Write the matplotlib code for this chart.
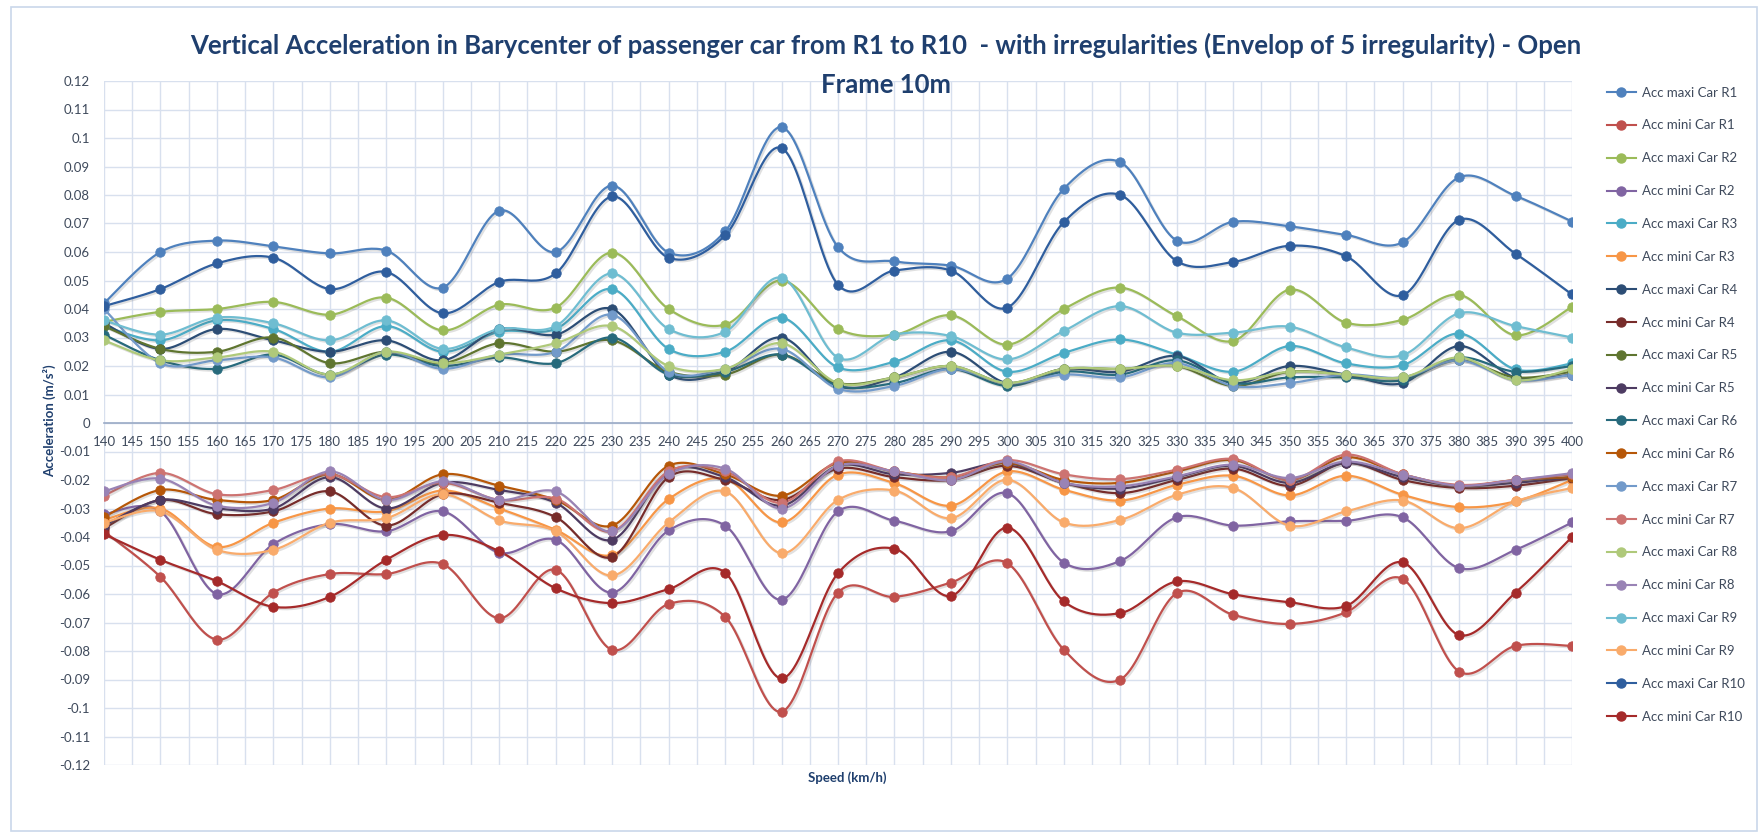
import numpy as np
import matplotlib
matplotlib.use("Agg")
import matplotlib.pyplot as plt
from matplotlib.lines import Line2D
from matplotlib.patches import Rectangle
import matplotlib.patheffects as pe

plt.rcParams['font.family'] = ['Lato', 'DejaVu Sans']

speed = list(range(140, 401, 10))

# maximum envelopes (m/s2)
maxi_r1 = [0.042, 0.060, 0.064, 0.062, 0.0595, 0.0605, 0.0475, 0.0745, 0.060, 0.0833, 0.0598, 0.0672, 0.1038, 0.0617,
           0.0567, 0.0552, 0.0507, 0.0822, 0.0915, 0.064, 0.0706, 0.069, 0.066, 0.0634, 0.0862, 0.0797, 0.0707]
maxi_r2 = [0.0355, 0.039, 0.040, 0.0425, 0.038, 0.044, 0.0325, 0.0415, 0.0405, 0.0598, 0.040, 0.0345, 0.050, 0.033,
           0.031, 0.0378, 0.0275, 0.040, 0.0475, 0.0375, 0.0288, 0.0468, 0.0352, 0.0362, 0.045, 0.0308, 0.0408]
maxi_r3 = [0.034, 0.029, 0.036, 0.033, 0.025, 0.034, 0.025, 0.032, 0.033, 0.047, 0.026, 0.025, 0.037, 0.0195,
           0.0215, 0.029, 0.018, 0.0246, 0.0293, 0.024, 0.018, 0.027, 0.0209, 0.0203, 0.0314, 0.0188, 0.0209]
maxi_r4 = [0.035, 0.026, 0.033, 0.029, 0.025, 0.029, 0.022, 0.033, 0.031, 0.040, 0.017, 0.018, 0.030, 0.013,
           0.016, 0.025, 0.014, 0.019, 0.018, 0.0235, 0.014, 0.020, 0.017, 0.014, 0.027, 0.016, 0.017]
maxi_r5 = [0.034, 0.026, 0.025, 0.030, 0.021, 0.025, 0.021, 0.028, 0.025, 0.029, 0.018, 0.017, 0.024, 0.014,
           0.016, 0.020, 0.014, 0.019, 0.019, 0.020, 0.013, 0.018, 0.017, 0.016, 0.022, 0.016, 0.018]
maxi_r6 = [0.031, 0.022, 0.019, 0.024, 0.017, 0.024, 0.020, 0.023, 0.021, 0.030, 0.017, 0.018, 0.024, 0.013,
           0.014, 0.019, 0.013, 0.018, 0.017, 0.022, 0.014, 0.016, 0.016, 0.015, 0.023, 0.018, 0.020]
maxi_r7 = [0.040, 0.021, 0.022, 0.023, 0.016, 0.025, 0.019, 0.024, 0.025, 0.038, 0.018, 0.019, 0.026, 0.012,
           0.013, 0.019, 0.014, 0.017, 0.016, 0.021, 0.013, 0.014, 0.017, 0.016, 0.022, 0.015, 0.017]
maxi_r8 = [0.029, 0.022, 0.023, 0.025, 0.017, 0.025, 0.021, 0.024, 0.028, 0.034, 0.020, 0.019, 0.028, 0.014,
           0.016, 0.020, 0.014, 0.019, 0.019, 0.020, 0.015, 0.018, 0.017, 0.016, 0.023, 0.015, 0.019]
maxi_r9 = [0.036, 0.031, 0.037, 0.035, 0.029, 0.036, 0.026, 0.033, 0.034, 0.0525, 0.033, 0.032, 0.051, 0.0229,
           0.031, 0.0305, 0.0223, 0.0323, 0.041, 0.0317, 0.0317, 0.0338, 0.0265, 0.0238, 0.0385, 0.034, 0.030]
maxi_r10 = [0.041, 0.047, 0.056, 0.058, 0.047, 0.053, 0.0385, 0.0495, 0.0525, 0.0795, 0.058, 0.0658, 0.0965, 0.0485,
            0.0535, 0.0535, 0.0405, 0.0705, 0.080, 0.0568, 0.0565, 0.0622, 0.0585, 0.0448, 0.0713, 0.0594, 0.0451]

# minimum envelopes (m/s2)
mini_r1 = [-0.038, -0.054, -0.076, -0.0595, -0.053, -0.053, -0.0495, -0.0685, -0.0515, -0.0796, -0.0635, -0.068,
           -0.1013, -0.0595, -0.061, -0.056, -0.0492, -0.0796, -0.090, -0.0597, -0.0673, -0.0705, -0.0664, -0.0547,
           -0.0872, -0.0782, -0.0782]
mini_r2 = [-0.032, -0.031, -0.060, -0.0425, -0.0355, -0.038, -0.031, -0.0455, -0.041, -0.0595, -0.0377, -0.036,
           -0.062, -0.031, -0.0343, -0.038, -0.0246, -0.049, -0.0484, -0.0331, -0.036, -0.0345, -0.0343, -0.0331,
           -0.0509, -0.0445, -0.0349]
mini_r3 = [-0.034, -0.030, -0.0435, -0.035, -0.030, -0.031, -0.0237, -0.030, -0.0375, -0.0463, -0.0267, -0.0196,
           -0.0349, -0.0181, -0.0211, -0.029, -0.017, -0.0234, -0.0272, -0.0217, -0.0185, -0.0254, -0.0185, -0.0252,
           -0.0295, -0.0275, -0.020]
mini_r4 = [-0.037, -0.027, -0.032, -0.031, -0.024, -0.036, -0.025, -0.028, -0.033, -0.047, -0.019, -0.020, -0.027,
           -0.016, -0.019, -0.020, -0.015, -0.021, -0.0246, -0.020, -0.016, -0.022, -0.014, -0.020, -0.0228, -0.022,
           -0.0193]
mini_r5 = [-0.036, -0.027, -0.030, -0.030, -0.019, -0.030, -0.021, -0.0235, -0.028, -0.041, -0.017, -0.019, -0.029,
           -0.015, -0.018, -0.0175, -0.014, -0.021, -0.023, -0.019, -0.015, -0.021, -0.014, -0.019, -0.022, -0.021,
           -0.019]
mini_r6 = [-0.033, -0.0235, -0.027, -0.027, -0.018, -0.027, -0.018, -0.022, -0.027, -0.036, -0.015, -0.018, -0.0255,
           -0.014, -0.017, -0.019, -0.014, -0.020, -0.021, -0.017, -0.013, -0.020, -0.012, -0.018, -0.022, -0.020,
           -0.019]
mini_r7 = [-0.0255, -0.0175, -0.025, -0.0235, -0.018, -0.026, -0.021, -0.027, -0.0265, -0.038, -0.017, -0.017,
           -0.028, -0.0135, -0.017, -0.019, -0.013, -0.018, -0.0197, -0.0164, -0.0126, -0.020, -0.0111, -0.018,
           -0.0217, -0.020, -0.018]
mini_r8 = [-0.024, -0.0195, -0.029, -0.028, -0.017, -0.027, -0.0205, -0.027, -0.024, -0.038, -0.018, -0.016, -0.030,
           -0.015, -0.017, -0.020, -0.0135, -0.021, -0.0222, -0.0187, -0.0146, -0.0193, -0.0135, -0.0181, -0.022,
           -0.020, -0.0176]
mini_r9 = [-0.035, -0.031, -0.0445, -0.0445, -0.035, -0.0334, -0.025, -0.0342, -0.038, -0.0535, -0.0349, -0.024,
           -0.0457, -0.027, -0.0237, -0.0334, -0.0199, -0.0349, -0.034, -0.0252, -0.0228, -0.036, -0.031, -0.0272,
           -0.0369, -0.0275, -0.0228]
mini_r10 = [-0.039, -0.048, -0.0555, -0.0645, -0.061, -0.048, -0.0393, -0.045, -0.058, -0.0632, -0.0583, -0.0525,
            -0.0896, -0.0527, -0.0441, -0.0607, -0.0367, -0.0626, -0.0667, -0.0556, -0.0601, -0.0629, -0.0642,
            -0.0489, -0.0744, -0.0595, -0.040]

series = [
    ("Acc maxi Car R1", maxi_r1, '#4F81BD'),
    ("Acc mini Car R1", mini_r1, '#C0504D'),
    ("Acc maxi Car R2", maxi_r2, '#9BBB59'),
    ("Acc mini Car R2", mini_r2, '#8064A2'),
    ("Acc maxi Car R3", maxi_r3, '#4BACC6'),
    ("Acc mini Car R3", mini_r3, '#F79646'),
    ("Acc maxi Car R4", maxi_r4, '#2C4D75'),
    ("Acc mini Car R4", mini_r4, '#772C2A'),
    ("Acc maxi Car R5", maxi_r5, '#5F7530'),
    ("Acc mini Car R5", mini_r5, '#4D3B62'),
    ("Acc maxi Car R6", maxi_r6, '#276A7C'),
    ("Acc mini Car R6", mini_r6, '#B65708'),
    ("Acc maxi Car R7", maxi_r7, '#729ACA'),
    ("Acc mini Car R7", mini_r7, '#CD7371'),
    ("Acc maxi Car R8", maxi_r8, '#AFC97A'),
    ("Acc mini Car R8", mini_r8, '#9983B5'),
    ("Acc maxi Car R9", maxi_r9, '#6FBDD1'),
    ("Acc mini Car R9", mini_r9, '#F9AB6B'),
    ("Acc maxi Car R10", maxi_r10, '#2F5E9E'),
    ("Acc mini Car R10", mini_r10, '#A52A2A'),
]


def smooth_curve(x, y, n=24):
    # cubic bezier through the points, same idea as a spreadsheet "smoothed line"
    pts = np.column_stack([x, y]).astype(float)
    t = np.linspace(0, 1, n)[:, None]
    out = []
    for i in range(len(pts) - 1):
        p0 = pts[i - 1] if i > 0 else pts[i]
        p1 = pts[i]
        p2 = pts[i + 1]
        p3 = pts[i + 2] if i + 2 < len(pts) else pts[i + 1]
        c1 = p1 + (p2 - p0) / 6.0
        c2 = p2 - (p3 - p1) / 6.0
        seg = (1 - t) ** 3 * p1 + 3 * (1 - t) ** 2 * t * c1 + 3 * (1 - t) * t ** 2 * c2 + t ** 3 * p2
        out.append(seg if i == 0 else seg[1:])
    out = np.vstack(out)
    return out[:, 0], out[:, 1]


fig = plt.figure(figsize=(17.59, 8.32), dpi=100)
W, H = 1759, 832
ax = fig.add_axes([104 / W, 1 - 765 / H, (1572 - 104) / W, (765 - 81) / H])

grid_col = '#D8E0EE'
text_col = '#3F4A5C'
title_col = '#1F3F6E'

shadow = [pe.SimpleLineShadow(offset=(1.2, -1.2), alpha=0.18, shadow_color='#555555'), pe.Normal()]
for name, vals, col in series:
    sx, sy = smooth_curve(speed, vals)
    ax.plot(sx, sy, color=col, lw=1.6, zorder=3, path_effects=shadow)
    ax.plot(speed, vals, ls='none', marker='o', ms=6.8, mfc=col, mec=col, mew=0.6, zorder=4)

ax.set_xlim(140, 400)
ax.set_ylim(-0.12, 0.12)
ax.set_xticks(np.arange(140, 401, 5))
ax.set_yticks(np.round(np.arange(-0.12, 0.121, 0.01), 2))
ax.grid(True, color=grid_col, lw=1.0, zorder=0)
ax.set_axisbelow(True)

ax.yaxis.set_major_formatter(plt.FuncFormatter(lambda v, p: '0' if abs(v) < 1e-9 else ('%g' % round(v, 2))))
for s in ['top', 'right', 'left']:
    ax.spines[s].set_visible(False)
ax.spines['bottom'].set_position(('data', 0))
ax.spines['bottom'].set_color('#9AAAC6')
ax.spines['bottom'].set_linewidth(1.2)
ax.spines['bottom'].set_zorder(2)
ax.tick_params(axis='both', length=0, labelsize=9.5, labelcolor=text_col)
ax.tick_params(axis='y', pad=10)
ax.tick_params(axis='x', pad=9)

fig.text(886 / W, 1 - 45 / H, "Vertical Acceleration in Barycenter of passenger car from R1 to R10  - with "
         "irregularities (Envelop of 5 irregularity) - Open", ha='center', va='center',
         fontsize=18.5, fontweight='bold', color=title_col)
fig.text(886 / W, 1 - 85 / H, "Frame 10m", ha='center', va='center',
         fontsize=18.5, fontweight='bold', color=title_col)

fig.text(50 / W, 1 - 421 / H, "Acceleration (m/s²)", rotation=90, ha='center', va='center',
         fontsize=9.5, fontweight='bold', color=title_col)
fig.text(847 / W, 1 - 778 / H, "Speed (km/h)", ha='center', va='center',
         fontsize=9.5, fontweight='bold', color=title_col)

handles = [Line2D([0], [0], color=col, lw=1.5, marker='o', ms=6.5, mfc=col, mec=col)
           for name, vals, col in series]
labels = [name for name, vals, col in series]
fig.legend(handles, labels, loc='upper left', bbox_to_anchor=(1600 / W, 1 - 80 / H),
           frameon=False, fontsize=9.5, handlelength=2.2, handletextpad=0.5,
           labelspacing=1.58, borderpad=0, labelcolor=text_col)

fig.patches.append(Rectangle((11 / W, 1 - 831 / H), (1757 - 11) / W, (831 - 7) / H,
                             transform=fig.transFigure, fill=False, ec='#C9D7EA', lw=1.2))

fig.savefig('out.png', dpi=100)
